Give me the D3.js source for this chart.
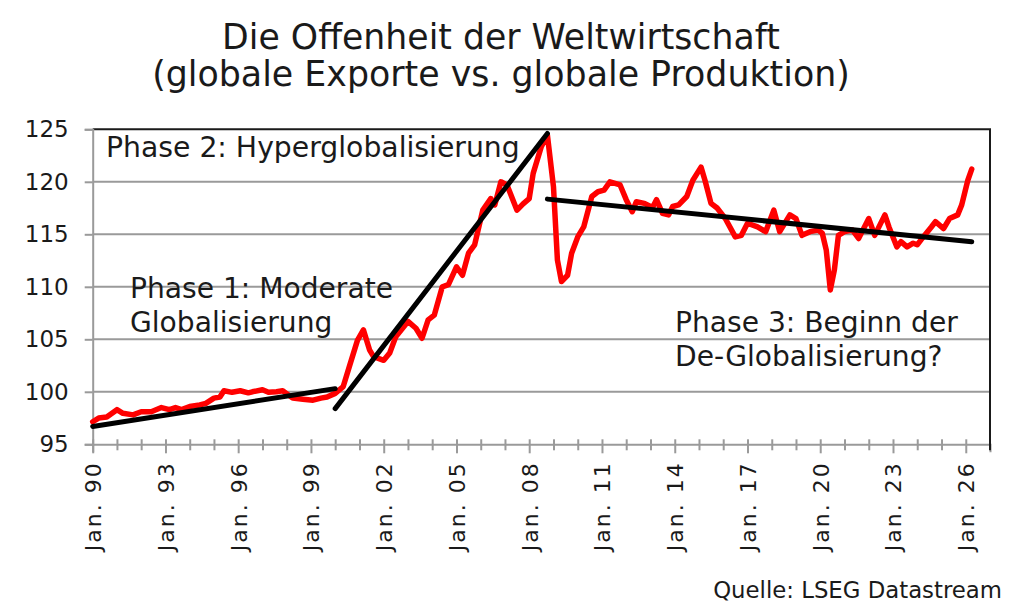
<!DOCTYPE html>
<html>
<head>
<meta charset="utf-8">
<script src="https://cdn.jsdelivr.net/npm/d3@7"></script>
<style>
  body { margin: 0; background: #fff; }
  text { fill: #1a1a1a; }
</style>
</head>
<body>
<script>
// red series: month and value
const months = [
  "1990-01","1990-04","1990-08","1991-01","1991-04","1991-09","1992-01","1992-06","1992-11",
  "1993-03","1993-06","1993-09","1994-01","1994-06","1994-09","1995-01","1995-04","1995-06",
  "1995-10","1996-02","1996-06","1996-08","1997-01","1997-04","1997-08","1997-11","1998-04",
  "1998-09","1999-02","1999-06","1999-09","2000-01","2000-05","2000-08","2000-12","2001-03",
  "2001-06","2001-08","2002-01","2002-04","2002-07","2003-01","2003-05","2003-08","2003-11",
  "2004-02","2004-06","2004-09","2005-01","2005-04","2005-07","2005-10","2006-02","2006-06",
  "2006-08","2006-11","2007-02","2007-07","2007-10","2008-01","2008-03","2008-07","2008-10",
  "2009-01","2009-03","2009-05","2009-08","2009-10","2010-01","2010-04","2010-08","2010-11",
  "2011-02","2011-05","2011-10","2012-01","2012-04","2012-06","2012-10","2013-02","2013-04",
  "2013-07","2013-10","2013-12","2014-03","2014-07","2014-10","2015-02","2015-04","2015-07",
  "2015-10","2016-02","2016-07","2016-10","2017-01","2017-06","2017-10","2018-02","2018-05",
  "2018-10","2019-01","2019-04","2019-08","2019-12","2020-02","2020-04","2020-06","2020-08",
  "2020-10","2021-01","2021-05","2021-08","2022-01","2022-04","2022-09","2022-11","2023-03",
  "2023-05","2023-08","2023-11","2024-01","2024-04","2024-08","2024-10","2025-02","2025-05",
  "2025-09","2025-11","2026-02","2026-04"
]
const values = [
  97.15,97.5,97.6,98.3,97.95,97.8,98.1,98.1,98.5,
  98.3,98.5,98.3,98.6,98.75,98.9,99.4,99.5,100.1,
  99.95,100.1,99.9,100.0,100.2,99.95,100.0,100.1,99.4,
  99.3,99.2,99.4,99.5,99.85,100.5,102.4,104.9,105.9,
  104.0,103.35,103.0,103.7,105.25,106.7,106.05,105.1,106.85,
  107.3,110.0,110.2,111.9,111.1,113.2,114.0,117.3,118.4,
  117.8,120.0,119.7,117.3,117.9,118.4,120.8,123.35,124.45,
  119.5,112.55,110.5,111.1,113.2,114.75,115.7,118.6,119.05,
  119.2,120.0,119.7,118.3,117.15,118.1,117.95,117.55,118.3,
  117.0,116.85,117.65,117.8,118.6,120.15,121.4,120.15,117.95,
  117.5,116.5,114.75,114.9,116.05,115.7,115.25,117.3,115.25,
  116.85,116.5,114.9,115.25,115.4,115.1,113.5,109.7,111.6,
  114.9,115.25,115.4,114.6,116.5,114.9,116.85,115.7,113.8,
  114.3,113.8,114.15,114.0,114.75,115.7,116.2,115.55,116.5,
  116.85,117.8,120.15,121.2
]

// black trend lines: start/end month and value
const trendStart = ["1990-01", "2000-01", "2008-10"]
const trendStartVal = [96.7, 98.4, 118.35]
const trendEnd = ["2000-01", "2008-10", "2026-04"]
const trendEndVal = [100.3, 124.6, 114.3]

const yTicks = [95, 100, 105, 110, 115, 120, 125]
const tickYears = d3.range(1990, 2027)

const titleLines = ["Die Offenheit der Weltwirtschaft", "(globale Exporte vs. globale Produktion)"]
const phaseLabels = [
  ["Phase 2: Hyperglobalisierung"],
  ["Phase 1: Moderate", "Globalisierung"],
  ["Phase 3: Beginn der", "De-Globalisierung?"]
]
const source = "Quelle: LSEG Datastream"

const W = 1024, H = 614
const pl = 92.7, pr = 990, pt = 129.3, pb = 444.3
const parse = d3.timeParse("%Y-%m")

const svg = d3.select("body").append("svg")
  .attr("width", W)
  .attr("height", H)

const x = d3.scaleTime()
  .domain([new Date(1990, 0, 1), new Date(2027, 0, 1)])
  .range([pl, pr])
const y = d3.scaleLinear()
  .domain([95, 125])
  .range([pb, pt])

const font = "'DejaVu Sans', sans-serif"

// fit a text element to a measured width by adjusting its font-size
function fit (sel, width) {
  sel.each(function () {
    const fs = parseFloat(this.getAttribute("font-size"))
    const w = this.getComputedTextLength()
    this.setAttribute("font-size", (fs * width / w).toFixed(2))
  })
}

// grid
svg.append("g")
  .selectAll("line")
  .data(yTicks.slice(1, -1))
  .enter()
  .append("line")
  .attr("x1", pl).attr("x2", pr)
  .attr("y1", d => y(d)).attr("y2", d => y(d))
  .attr("stroke", "#9a9a9a")
  .attr("stroke-width", 2)

// frame top and right
svg.append("path")
  .attr("d", `M${pl},${pt}H${pr}V${pb}`)
  .attr("fill", "none")
  .attr("stroke", "#1a1a1a")
  .attr("stroke-width", 2)

// y axis
const yAxis = svg.append("g")
  .attr("transform", `translate(${pl},0)`)
  .call(d3.axisLeft(y).tickValues(yTicks).tickSize(8).tickPadding(16))
yAxis.select(".domain").attr("stroke", "#9a9a9a").attr("stroke-width", 2)
yAxis.selectAll(".tick line").attr("stroke", "#9a9a9a").attr("stroke-width", 2)
yAxis.selectAll(".tick text")
  .attr("font-family", font)
  .attr("font-size", 23)
  .attr("fill", "#1a1a1a")

// x axis
const xAxis = svg.append("g")
  .attr("transform", `translate(0,${pb})`)
  .call(d3.axisBottom(x)
    .tickValues(tickYears.map(d => new Date(d, 0, 1)))
    .tickSize(8)
    .tickFormat(d => (d.getFullYear() - 1990) % 3 === 0 ? "Jan. " + String(d.getFullYear()).slice(2) : ""))
xAxis.select(".domain").attr("stroke", "#9a9a9a").attr("stroke-width", 2)
xAxis.selectAll(".tick line")
  .attr("stroke", "#9a9a9a")
  .attr("stroke-width", 2)
  .attr("y1", -5)
  .attr("y2", d => (d.getFullYear() - 1990) % 3 === 0 ? 9 : 6)
xAxis.selectAll(".tick text")
  .attr("font-family", font)
  .attr("font-size", 22)
  .attr("fill", "#1a1a1a")
  .attr("text-anchor", "end")
  .attr("transform", "rotate(-90)")
  .attr("x", -19)
  .attr("y", 0)
  .attr("dy", "0.36em")
  .filter(d => (d.getFullYear() - 1990) % 3 === 0)
  .attr("textLength", 88)
  .attr("lengthAdjust", "spacing")

// right axis tick at end
svg.append("line")
  .attr("x1", pr).attr("x2", pr)
  .attr("y1", pb - 5).attr("y2", pb + 6)
  .attr("stroke", "#1a1a1a").attr("stroke-width", 2)

// series
const series = months.map((m, i) => ({ date: parse(m), value: values[i] }))
const line = d3.line()
  .x(d => x(d.date))
  .y(d => y(d.value))

svg.append("path")
  .datum(series)
  .attr("d", line)
  .attr("fill", "none")
  .attr("stroke", "#ff0000")
  .attr("stroke-width", 5.5)
  .attr("stroke-linejoin", "round")
  .attr("stroke-linecap", "round")

// trends
svg.append("g")
  .selectAll("line")
  .data(trendStart)
  .enter()
  .append("line")
  .attr("x1", d => x(parse(d)))
  .attr("y1", (d, i) => y(trendStartVal[i]))
  .attr("x2", (d, i) => x(parse(trendEnd[i])))
  .attr("y2", (d, i) => y(trendEndVal[i]))
  .attr("stroke", "#000")
  .attr("stroke-width", 5)
  .attr("stroke-linecap", "round")

// phase labels
const labelPos = [
  { x: 106, y: 157, w: 414 },
  { x: 130, y: 298, w: 263 },
  { x: 675, y: 332, w: 283 }
]
const lineGap = 34
phaseLabels.forEach((lines, i) => {
  const p = labelPos[i]
  const t = svg.append("text")
    .attr("font-family", font)
    .attr("font-size", 24)
    .attr("x", p.x)
    .attr("y", p.y)
  lines.forEach((s, j) => {
    t.append("tspan")
      .attr("x", p.x)
      .attr("dy", j === 0 ? 0 : lineGap)
      .text(s)
  })
  const w = d3.max(t.selectAll("tspan").nodes(), n => n.getComputedTextLength())
  t.attr("font-size", (24 * p.w / w).toFixed(2))
})

// title
const titleW = [558, 698]
titleLines.forEach((s, i) => {
  svg.append("text")
    .attr("font-family", font)
    .attr("font-size", 29)
    .attr("x", 501)
    .attr("y", 49 + i * 37)
    .attr("text-anchor", "middle")
    .text(s)
    .call(fit, titleW[i])
})

// source
svg.append("text")
  .attr("font-family", font)
  .attr("font-size", 19)
  .attr("x", 1002)
  .attr("y", 598)
  .attr("text-anchor", "end")
  .text(source)
  .call(fit, 289)
</script>
</body>
</html>
